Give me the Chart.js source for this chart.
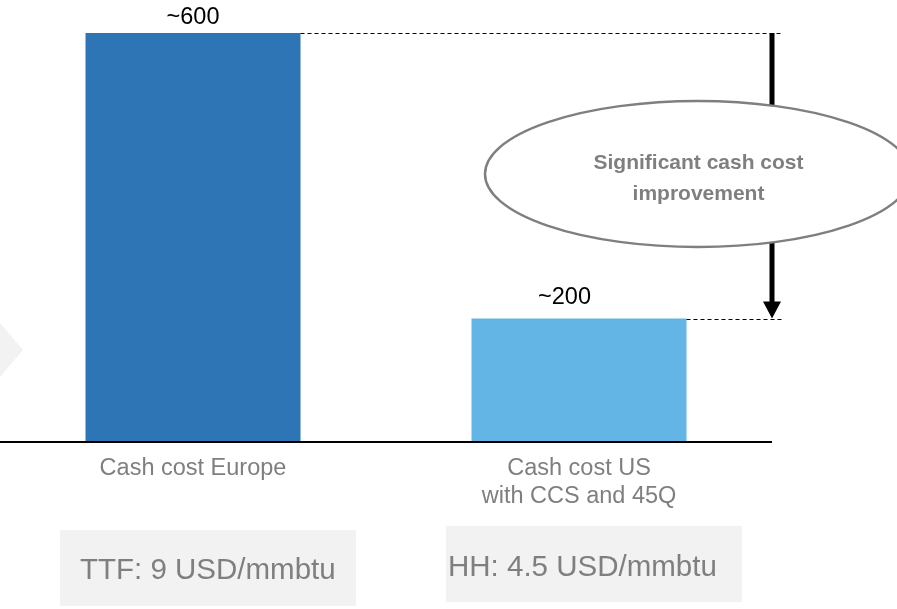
<!DOCTYPE html>
<html>
<head>
<meta charset="utf-8">
<script src="https://cdn.jsdelivr.net/npm/chart.js@4"></script>
<style>
  html, body { margin: 0; padding: 0; background: #fff; }
  #wrap { width: 897px; height: 609px; }
</style>
</head>
<body>
<div id="wrap"><canvas id="costChart" width="897" height="609"></canvas></div>
<script>
const categories = [['Cash cost Europe'], ['Cash cost US', 'with CCS and 45Q']];
const cashCost = [600, 180];
const valueLabels = ['~600', '~200'];
const gasPrices = ['TTF: 9 USD/mmbtu', 'HH: 4.5 USD/mmbtu'];
const barColors = ['#2E75B6', '#62B5E5'];

const FONT = '"Liberation Sans", Arial, sans-serif';
const GREY = '#7f7f7f';

// ========== ANNOTATIONS ==========
const annotations = {
  id: 'annotations',
  beforeDraw(chart) {
    const ctx = chart.ctx;
    ctx.save();
    // faint chevron on the left edge
    ctx.fillStyle = '#f2f2f2';
    ctx.beginPath();
    ctx.moveTo(0, 323);
    ctx.lineTo(23, 350);
    ctx.lineTo(0, 377);
    ctx.closePath();
    ctx.fill();
    ctx.restore();
  },
  afterDraw(chart) {
    const ctx = chart.ctx;
    const area = chart.chartArea;
    const x = chart.scales.x;
    const bars = chart.getDatasetMeta(0).data;
    const arrowX = 772;
    const lineEnd = 783;

    ctx.save();

    // baseline
    ctx.strokeStyle = '#000';
    ctx.lineWidth = 2;
    ctx.beginPath();
    ctx.moveTo(area.left, area.bottom + 1);
    ctx.lineTo(area.right, area.bottom + 1);
    ctx.stroke();

    // value labels + dashed guides
    ctx.font = '23.5px ' + FONT;
    ctx.textAlign = 'center';
    ctx.textBaseline = 'alphabetic';
    bars.forEach((bar, i) => {
      ctx.fillStyle = '#000';
      if (i === 0) ctx.fillText(valueLabels[i], bar.x, bar.y - 9);
      else ctx.fillText(valueLabels[i], bar.x - 14.5, bar.y - 15);

      ctx.setLineDash([4, 3]);
      ctx.lineWidth = 1;
      ctx.strokeStyle = '#000';
      ctx.beginPath();
      ctx.moveTo(bar.x + bar.width / 2, Math.round(bar.y) + 0.5);
      ctx.lineTo(lineEnd, Math.round(bar.y) + 0.5);
      ctx.stroke();
      ctx.setLineDash([]);
    });

    // arrow from first bar top to second bar top
    const yTop = bars[0].y;
    const yBot = bars[1].y;
    ctx.strokeStyle = '#000';
    ctx.lineWidth = 5;
    ctx.beginPath();
    ctx.moveTo(arrowX, yTop);
    ctx.lineTo(arrowX, yBot - 16);
    ctx.stroke();
    ctx.fillStyle = '#000';
    ctx.beginPath();
    ctx.moveTo(arrowX - 9, yBot - 17);
    ctx.lineTo(arrowX + 9, yBot - 17);
    ctx.lineTo(arrowX, yBot);
    ctx.closePath();
    ctx.fill();

    // callout ellipse
    ctx.fillStyle = '#fff';
    ctx.strokeStyle = GREY;
    ctx.lineWidth = 2.5;
    ctx.beginPath();
    ctx.ellipse(698, 174, 213, 73, 0, 0, Math.PI * 2);
    ctx.fill();
    ctx.stroke();
    ctx.fillStyle = GREY;
    ctx.font = 'bold 21px ' + FONT;
    ctx.fillText('Significant cash cost', 698.5, 169);
    ctx.fillText('improvement', 698.5, 200);

    // category labels
    ctx.font = '23.5px ' + FONT;
    ctx.fillStyle = GREY;
    categories.forEach((lines, i) => {
      const cx = x.getPixelForValue(i);
      lines.forEach((line, j) => {
        ctx.fillText(line, cx, 475 + j * 28);
      });
    });

    // gas price boxes
    const boxes = [
      { x: 60, y: 530, w: 296, h: 76, tx: 80, ty: 579 },
      { x: 446, y: 526, w: 296, h: 76, tx: 448, ty: 576 }
    ];
    ctx.font = '29.5px ' + FONT;
    ctx.textAlign = 'left';
    boxes.forEach((b, i) => {
      ctx.fillStyle = '#f2f2f2';
      ctx.fillRect(b.x, b.y, b.w, b.h);
      ctx.fillStyle = GREY;
      ctx.fillText(gasPrices[i], b.tx, b.ty);
    });

    ctx.restore();
  }
};

// ========== CHART ==========
new Chart(document.getElementById('costChart'), {
  type: 'bar',
  data: {
    labels: categories,
    datasets: [{
      data: cashCost,
      backgroundColor: barColors,
      borderWidth: 0,
      categoryPercentage: 1,
      barPercentage: 0.557
    }]
  },
  options: {
    responsive: false,
    animation: false,
    layout: { padding: { left: 0, right: 125, top: 33, bottom: 168 } },
    plugins: {
      legend: { display: false },
      tooltip: { enabled: false },
      title: { display: false }
    },
    scales: {
      x: { display: false },
      y: { display: false, min: 0, max: 600 }
    }
  },
  plugins: [annotations]
});
</script>
</body>
</html>
